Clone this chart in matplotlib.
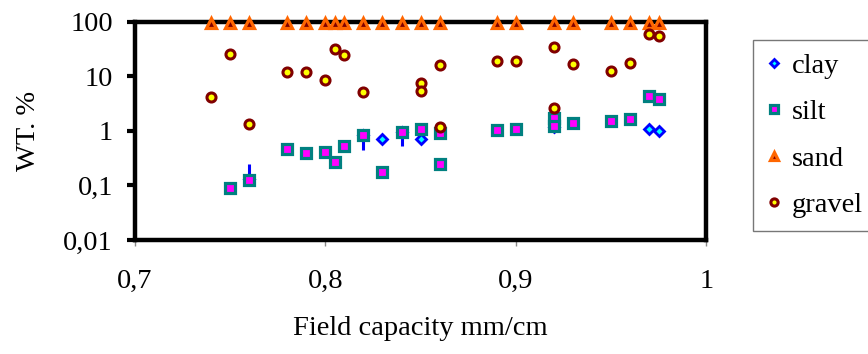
import numpy as np
import matplotlib.pyplot as plt
from matplotlib.ticker import FixedLocator, FixedFormatter, NullLocator

plt.rcParams['font.family'] = ['Liberation Serif', 'DejaVu Serif']

# field capacity (mm/cm) and weight fractions (%)
sand_x = [0.74, 0.75, 0.76, 0.78, 0.79, 0.80, 0.805, 0.81, 0.82, 0.83, 0.84,
          0.85, 0.86, 0.89, 0.90, 0.92, 0.93, 0.95, 0.96, 0.97, 0.975]
sand_y = [97, 97, 97, 97, 97, 97, 97, 97, 95, 95, 95,
          95, 95, 97, 97, 96, 96, 96, 96, 95, 95]

gravel_x = [0.74, 0.75, 0.76, 0.78, 0.79, 0.80, 0.805, 0.81, 0.82, 0.85, 0.85,
            0.86, 0.86, 0.89, 0.90, 0.92, 0.92, 0.93, 0.95, 0.96, 0.97, 0.975]
gravel_y = [4.2, 26, 1.35, 12.2, 12, 8.6, 32, 25, 5.2, 7.6, 5.4,
            16, 1.18, 19.5, 19, 35, 2.6, 17, 12.6, 17.5, 60, 55]

silt_x = [0.75, 0.76, 0.78, 0.79, 0.80, 0.805, 0.81, 0.82, 0.83, 0.84, 0.85,
          0.86, 0.86, 0.89, 0.90, 0.92, 0.92, 0.93, 0.95, 0.96, 0.97, 0.975]
silt_y = [0.09, 0.127, 0.47, 0.39, 0.41, 0.27, 0.54, 0.86, 0.18, 0.95, 1.08,
          0.9, 0.25, 1.05, 1.1, 1.7, 1.25, 1.38, 1.55, 1.65, 4.4, 3.9]

clay_x = [0.76, 0.82, 0.83, 0.84, 0.85, 0.92, 0.97, 0.975]
clay_y = [0.13, 0.85, 0.71, 0.95, 0.71, 1.2, 1.1, 1.0]
clay_err_lo = [0, 0.41, 0, 0.43, 0, 0, 0, 0]
clay_err_hi = [0.12, 0, 0, 0, 0, 0, 0, 0]

fig = plt.figure(figsize=(8.68, 3.54), dpi=100)
ax = fig.add_axes([0.1555, 0.322, 0.658, 0.616])

ax.errorbar(clay_x, clay_y, yerr=[clay_err_lo, clay_err_hi], fmt='none',
            ecolor='#0000ff', elinewidth=2.2, capsize=0, zorder=2)
ax.plot(clay_x, clay_y, ls='none', marker='D', ms=5.5, mfc='#00ffff',
        mec='#0000ff', mew=2, label='clay', zorder=3, clip_on=False)
ax.plot(silt_x, silt_y, ls='none', marker='s', ms=6.5, mfc='#ff00ff',
        mec='#008080', mew=2.3, label='silt', zorder=4, clip_on=False)
ax.plot(sand_x, sand_y, ls='none', marker='^', ms=7, mfc='#800000',
        mec='#ff6600', mew=2.3, label='sand', zorder=5, clip_on=False)
ax.plot(gravel_x, gravel_y, ls='none', marker='o', ms=6.5, mfc='#ffff00',
        mec='#800000', mew=2.2, label='gravel', zorder=6, clip_on=False)

ax.set_yscale('log')
ax.set_ylim(0.01, 100)
ax.set_xlim(0.7, 1.0)

yt = [0.01, 0.1, 1, 10, 100]
ax.yaxis.set_major_locator(FixedLocator(yt))
ax.yaxis.set_major_formatter(FixedFormatter(['0,01', '0,1', '1', '10', '100']))
ax.yaxis.set_minor_locator(NullLocator())
xt = [0.7, 0.8, 0.9, 1.0]
ax.set_xticks(xt)
ax.set_xticklabels(['0,7', '0,8', '0,9', '1'])

for s in ax.spines.values():
    s.set_linewidth(3.2)
    s.set_color('black')
ax.tick_params(axis='y', direction='out', length=6, width=3, labelsize=20.5, pad=10)
ax.tick_params(axis='x', direction='out', length=4, width=1, color='#888888',
               labelsize=20.5, pad=17)

ax.set_xlabel('Field capacity mm/cm', fontsize=20.5, labelpad=16)
ax.set_ylabel('WT. %', fontsize=20.5, labelpad=16)

leg = fig.legend(loc='upper left', bbox_to_anchor=(0.8675, 0.887), fontsize=20.5,
                 frameon=True, fancybox=False, edgecolor='#555555',
                 labelspacing=0.72, handletextpad=0.3, handlelength=0.6,
                 borderpad=0.45, borderaxespad=0, markerscale=0.8)
leg.get_frame().set_linewidth(1)

fig.savefig('out.png', dpi=100)
